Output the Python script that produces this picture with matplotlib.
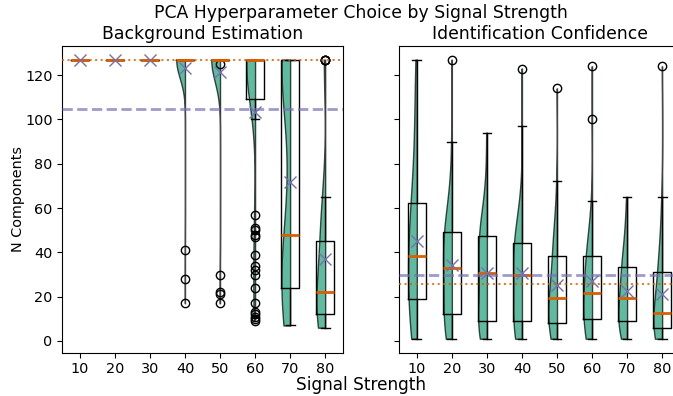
import numpy as np
import matplotlib.pyplot as plt

# Signal strengths on the x axis
signal_strengths = [10, 20, 30, 40, 50, 60, 70, 80]

# Background Estimation: chosen number of PCA components per run
bkg_10 = [127] * 40
bkg_20 = [127] * 40
bkg_30 = [127] * 40
bkg_40 = [127] * 71 + [41, 28, 17]
bkg_50 = [127] * 71 + [125, 30, 22, 21, 17]
bkg_60 = ([9, 10, 11, 12, 13, 17, 24, 30, 32, 34, 39, 47, 48, 50, 51, 57,
           100, 107, 110, 112, 114, 115, 117, 118, 119, 120, 121, 122, 123,
           124, 124, 125, 125, 126, 126] + [127] * 37)
bkg_70 = ([7, 8, 10, 12, 14, 16, 18, 19, 20, 22, 23, 24,
           27, 30, 33, 36, 39, 42, 44, 46, 47, 48, 48,
           80, 95, 105, 115, 118, 120, 122, 124, 126] + [127] * 12)
bkg_80 = ([6, 7, 8, 8, 9, 10, 10, 11, 11, 12, 12, 12,
           13, 14, 15, 16, 17, 18, 19, 20, 20, 21, 22,
           25, 30, 35, 38, 40, 42, 43, 44, 45, 45, 45,
           52, 56, 60, 62, 63, 64, 65] + [127] * 4)

# Identification Confidence: chosen number of PCA components per run
idc_10 = [1, 1, 1, 2, 4, 6, 9, 12, 15, 19, 19, 22, 25, 27, 29, 31, 33, 35, 36, 38,
          39, 41, 44, 47, 50, 53, 56, 58, 60, 62, 64, 68, 74, 80, 86, 93, 100, 110, 120, 127]
idc_20 = [1, 1, 2, 3, 4, 5, 7, 8, 10, 12, 12, 14, 16, 19, 22, 24, 27, 29, 31, 32,
          34, 35, 36, 38, 40, 42, 44, 46, 47, 49, 50, 51, 52, 54, 56, 60, 64, 72, 90, 127]
idc_30 = [1, 1, 1, 2, 3, 4, 5, 6, 8, 9, 9, 11, 13, 16, 18, 20, 22, 25, 27, 30,
          31, 32, 34, 36, 38, 40, 42, 44, 45, 47, 48, 49, 50, 52, 54, 57, 60, 65, 75, 94]
idc_40 = [1, 1, 1, 2, 3, 4, 5, 6, 8, 9, 9, 10, 12, 15, 17, 19, 21, 24, 27, 30,
          30, 31, 33, 35, 36, 38, 39, 41, 43, 44, 45, 46, 47, 49, 51, 53, 57, 64, 97, 123]
idc_50 = [1, 1, 1, 2, 3, 4, 5, 6, 7, 8, 8, 10, 11, 12, 13, 14, 15, 17, 18, 19,
          20, 21, 22, 24, 26, 28, 30, 32, 35, 38, 40, 41, 43, 45, 47, 50, 54, 60, 72, 114]
idc_60 = [1, 1, 1, 1, 2, 3, 4, 6, 8, 10, 10, 11, 12, 13, 14, 15, 16, 17, 19, 21,
          22, 23, 25, 27, 29, 31, 33, 34, 36, 38, 39, 40, 41, 42, 44, 47, 52, 63, 100, 124]
idc_70 = [1, 1, 1, 2, 3, 4, 5, 6, 7, 9, 9, 10, 11, 12, 13, 14, 15, 17, 18, 19,
          20, 21, 23, 24, 26, 27, 29, 30, 32, 33, 34, 36, 38, 40, 42, 45, 48, 52, 58, 65]
idc_80 = [1, 1, 1, 1, 2, 2, 3, 4, 4, 5, 6, 7, 8, 8, 9, 10, 10, 11, 12, 12,
          13, 15, 17, 19, 21, 23, 25, 27, 29, 31, 32, 33, 35, 38, 41, 45, 50, 57, 65, 124]

bkg_groups = [bkg_10, bkg_20, bkg_30, bkg_40, bkg_50, bkg_60, bkg_70, bkg_80]
idc_groups = [idc_10, idc_20, idc_30, idc_40, idc_50, idc_60, idc_70, idc_80]

VIOLIN = '#1b9e77'
MEDIAN = '#d95f02'
MEAN = '#7570b3'


def draw_panel(ax, groups, title):
    positions = np.arange(1, len(groups) + 1)

    # half violins (left side), constant groups have no density
    vpos = [p for p, g in zip(positions, groups) if np.ptp(g) > 0]
    vdata = [g for g in groups if np.ptp(g) > 0]
    parts = ax.violinplot(vdata, positions=vpos, widths=0.5, showextrema=False)
    for body, p in zip(parts['bodies'], vpos):
        verts = body.get_paths()[0].vertices
        verts[:, 0] = np.minimum(verts[:, 0], p)
        body.set_facecolor(VIOLIN)
        body.set_edgecolor('black')
        body.set_linewidth(1)
        body.set_alpha(0.7)

    ax.boxplot(groups, positions=positions, widths=0.5, showmeans=True,
               medianprops=dict(color=MEDIAN, linewidth=2),
               meanprops=dict(marker='x', markeredgecolor=MEAN, markersize=9,
                              markeredgewidth=1),
               flierprops=dict(marker='o', markerfacecolor='none',
                               markeredgecolor='black'))

    # reference lines: average of the group means / medians
    mean_line = np.mean([np.mean(g) for g in groups])
    median_line = np.median([np.median(g) for g in groups])
    ax.axhline(mean_line, color=MEAN, linestyle='--', linewidth=2, alpha=0.7, zorder=3)
    ax.axhline(median_line, color=MEDIAN, linestyle=':', linewidth=1.5, alpha=0.8, zorder=3)

    ax.set_xticks(positions)
    ax.set_xticklabels(signal_strengths)
    ax.set_xlim(0.5, len(groups) + 0.5)
    ax.tick_params(labelsize=10.4)
    ax.set_title(title, fontsize=12.4, pad=5)


fig = plt.figure(figsize=(6.73, 3.96), dpi=100)
ax1 = fig.add_axes([0.0926, 0.1093, 0.4166, 0.7753])
ax2 = fig.add_axes([0.5933, 0.1093, 0.4166, 0.7753], sharey=ax1)

draw_panel(ax1, bkg_groups, 'Background Estimation')
draw_panel(ax2, idc_groups, 'Identification Confidence')
ax2.tick_params(labelleft=False)

ax1.set_ylabel('N Components', fontsize=10.4, labelpad=0)
fig.suptitle('PCA Hyperparameter Choice by Signal Strength', x=0.536, y=0.99,
             va='top', fontsize=12.4)
fig.supxlabel('Signal Strength', x=0.536, y=0.005, va='bottom', fontsize=12.2)

fig.savefig('out.png', dpi=100)
